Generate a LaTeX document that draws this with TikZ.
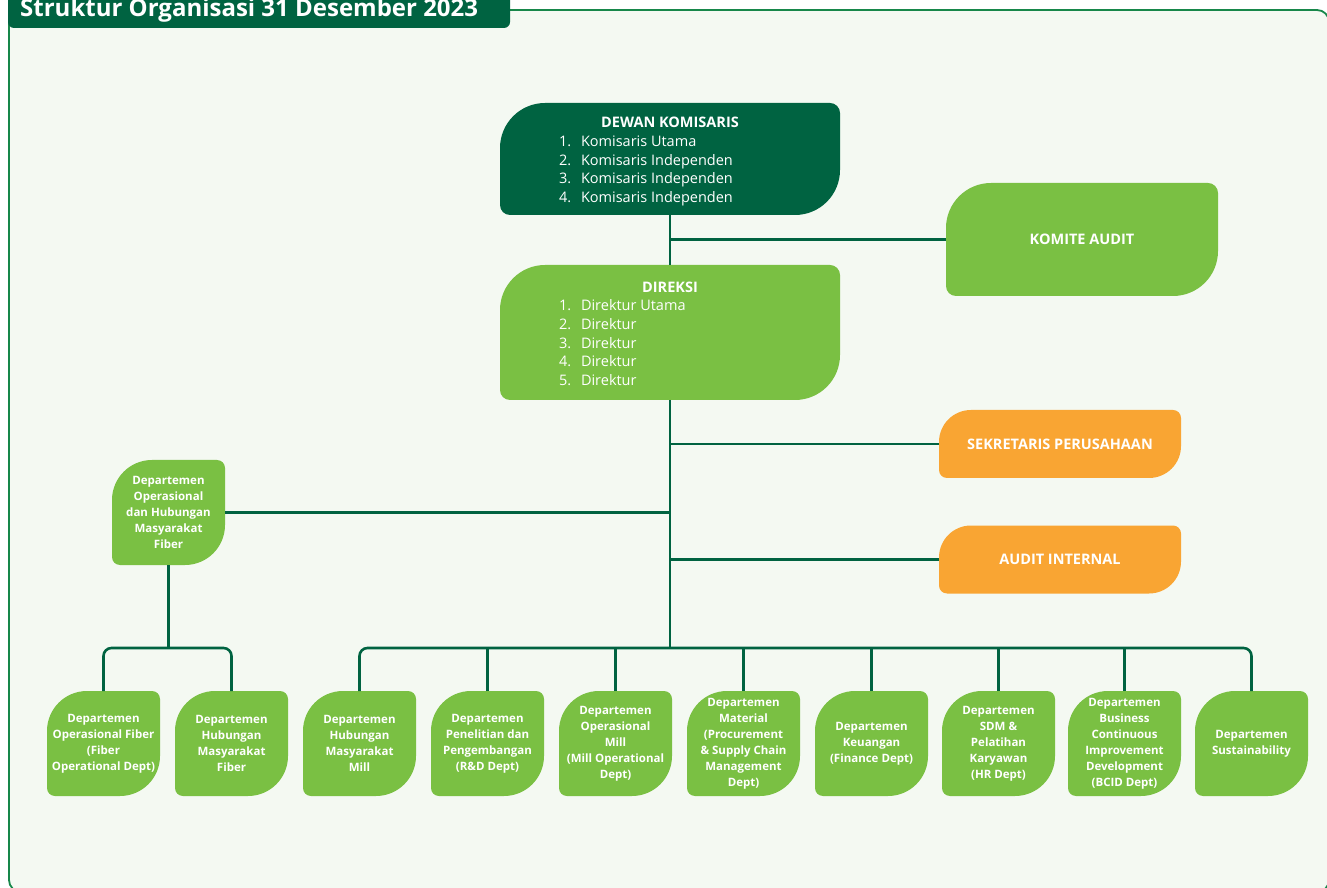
\documentclass[tikz,border=0pt]{standalone}
\usepackage{fontspec}
\setmainfont{Open Sans}
\usetikzlibrary{calc}

\definecolor{darkgreen}{HTML}{006341}
\definecolor{leafgreen}{HTML}{7AC043}
\definecolor{orgorange}{HTML}{F9A533}
\definecolor{panelbg}{HTML}{F4F9F2}
\definecolor{framegreen}{HTML}{17874A}
\definecolor{linkgreen}{HTML}{006341}

\tikzset{
  % leaf-shaped box: big radius (#2) top-left and bottom-right, small radius (#3) elsewhere
  leaf/.style n args={3}{rectangle, inner sep=0pt, outer sep=0pt, text=white,
    path picture={\fill[#1] let \p1=(path picture bounding box.south west),
                                \p2=(path picture bounding box.north east) in
      (\x1,\y1+#3) -- (\x1,\y2-#2) arc[start angle=180,end angle=90,radius=#2]
      -- (\x2-#3,\y2) arc[start angle=90,end angle=0,radius=#3]
      -- (\x2,\y1+#2) arc[start angle=0,end angle=-90,radius=#2]
      -- (\x1+#3,\y1) arc[start angle=270,end angle=180,radius=#3] -- cycle;}},
  deptbox/.style={leaf={leafgreen}{40pt}{8pt}, minimum width=113pt, minimum height=105pt,
    align=center, font=\bfseries\fontsize{11.5}{16}\selectfont},
  boardbox/.style={leaf={#1}{45pt}{10pt}, minimum width=340pt, align=left,
    font=\fontsize{14.5}{18.7}\selectfont},
  capsbox/.style={leaf={leafgreen}{45pt}{10pt}, minimum width=272pt, minimum height=113pt,
    align=center, font=\bfseries\fontsize{14.5}{18}\selectfont},
  staffbox/.style={leaf={orgorange}{32pt}{8pt}, minimum width=242pt, minimum height=68pt,
    align=center, font=\bfseries\fontsize{14.5}{18}\selectfont},
  link/.style={draw=linkgreen, line width=2.6pt},
}

\newcommand{\listrow}[2]{\hspace*{59pt}\makebox[22pt][l]{#1}#2}

\begin{document}
\begin{tikzpicture}[x=1pt,y=1pt]
  \fill[white] (0,0) rectangle (1327,887);
  \useasboundingbox (0,0) rectangle (1327,887);
  \clip (0,0) rectangle (1327,887);

  % panel frame and title tab
  \draw[framegreen, line width=1.8pt, fill=panelbg, rounded corners=12pt] (9,-5) rectangle (1329,877);
  \fill[darkgreen, rounded corners=6pt] (8,859) rectangle (510,905);
  \node[anchor=base west, text=white, inner sep=0pt, font=\bfseries\fontsize{24}{24}\selectfont]
    (title) at (20,870) {Struktur Organisasi 31 Desember 2023};

  % board and directors
  \node[boardbox=darkgreen, minimum height=112pt] (dewan) at (670,728)
    {\rule{0pt}{16pt}\makebox[340pt][c]{\bfseries DEWAN KOMISARIS}\\
     \listrow{1.}{Komisaris Utama}\\
     \listrow{2.}{Komisaris Independen}\\
     \listrow{3.}{Komisaris Independen}\\
     \listrow{4.}{Komisaris Independen}};
  \node[boardbox=leafgreen, minimum height=135pt] (direksi) at (670,554.5)
    {\rule{0pt}{13pt}\makebox[340pt][c]{\bfseries DIREKSI}\\
     \listrow{1.}{Direktur Utama}\\
     \listrow{2.}{Direktur}\\
     \listrow{3.}{Direktur}\\
     \listrow{4.}{Direktur}\\
     \listrow{5.}{Direktur}};

  \node[capsbox] (komite) at (1082,647.5) {KOMITE AUDIT};
  \node[staffbox] (sekr) at (1060,443) {SEKRETARIS PERUSAHAAN};
  \node[staffbox] (audit) at (1060,327.5) {AUDIT INTERNAL};

  \node[deptbox] (fiberops) at (168.5,374.5)
    {Departemen\\Operasional\\dan Hubungan\\Masyarakat\\Fiber};

  % departments
  \node[deptbox] (d1) at (103.5,143.5) {Departemen\\Operasional Fiber\\(Fiber\\Operational Dept)};
  \node[deptbox] (d2) at (231.5,143.5) {Departemen\\Hubungan\\Masyarakat\\Fiber};
  \node[deptbox] (d3) at (359.5,143.5) {Departemen\\Hubungan\\Masyarakat\\Mill};
  \node[deptbox] (d4) at (487.5,143.5) {Departemen\\Penelitian dan\\Pengembangan\\(R\&D Dept)};
  \node[deptbox] (d5) at (615.5,143.5) {Departemen\\Operasional\\Mill\\(Mill Operational\\Dept)};
  \node[deptbox] (d6) at (743.5,143.5) {Departemen\\Material\\(Procurement\\\& Supply Chain\\Management\\Dept)};
  \node[deptbox] (d7) at (871.5,143.5) {Departemen\\Keuangan\\(Finance Dept)};
  \node[deptbox] (d8) at (998.5,143.5) {Departemen\\SDM \&\\Pelatihan\\Karyawan\\(HR Dept)};
  \node[deptbox] (d9) at (1124.5,143.5) {Departemen\\Business\\Continuous\\Improvement\\Development\\(BCID Dept)};
  \node[deptbox] (d10) at (1251.5,143.5) {Departemen\\Sustainability};

  % connectors
  \coordinate (bus) at (670,239);
  \draw[link] (dewan.south) -- (direksi.north);
  \draw[link] (komite.west) -- (komite.west -| dewan.south);
  \draw[link] (sekr.west) -- (sekr.west -| direksi.south);
  \draw[link] (audit.west) -- (audit.west -| direksi.south);
  \draw[link] (fiberops.east) -- (fiberops.east -| direksi.south);
  \draw[link] (direksi.south) -- (bus);
  \draw[link, rounded corners=8pt] (d3.north) -- (d3.north |- bus) -- (d10.north |- bus) -- (d10.north);
  \foreach \n in {d4,d5,d6,d7,d8,d9}
    \draw[link] (\n.north) -- (\n.north |- bus);
  \draw[link] (fiberops.south) -- (fiberops.south |- bus);
  \draw[link, rounded corners=8pt] (d1.north) -- (d1.north |- bus) -- (d2.north |- bus) -- (d2.north);
\end{tikzpicture}
\end{document}
